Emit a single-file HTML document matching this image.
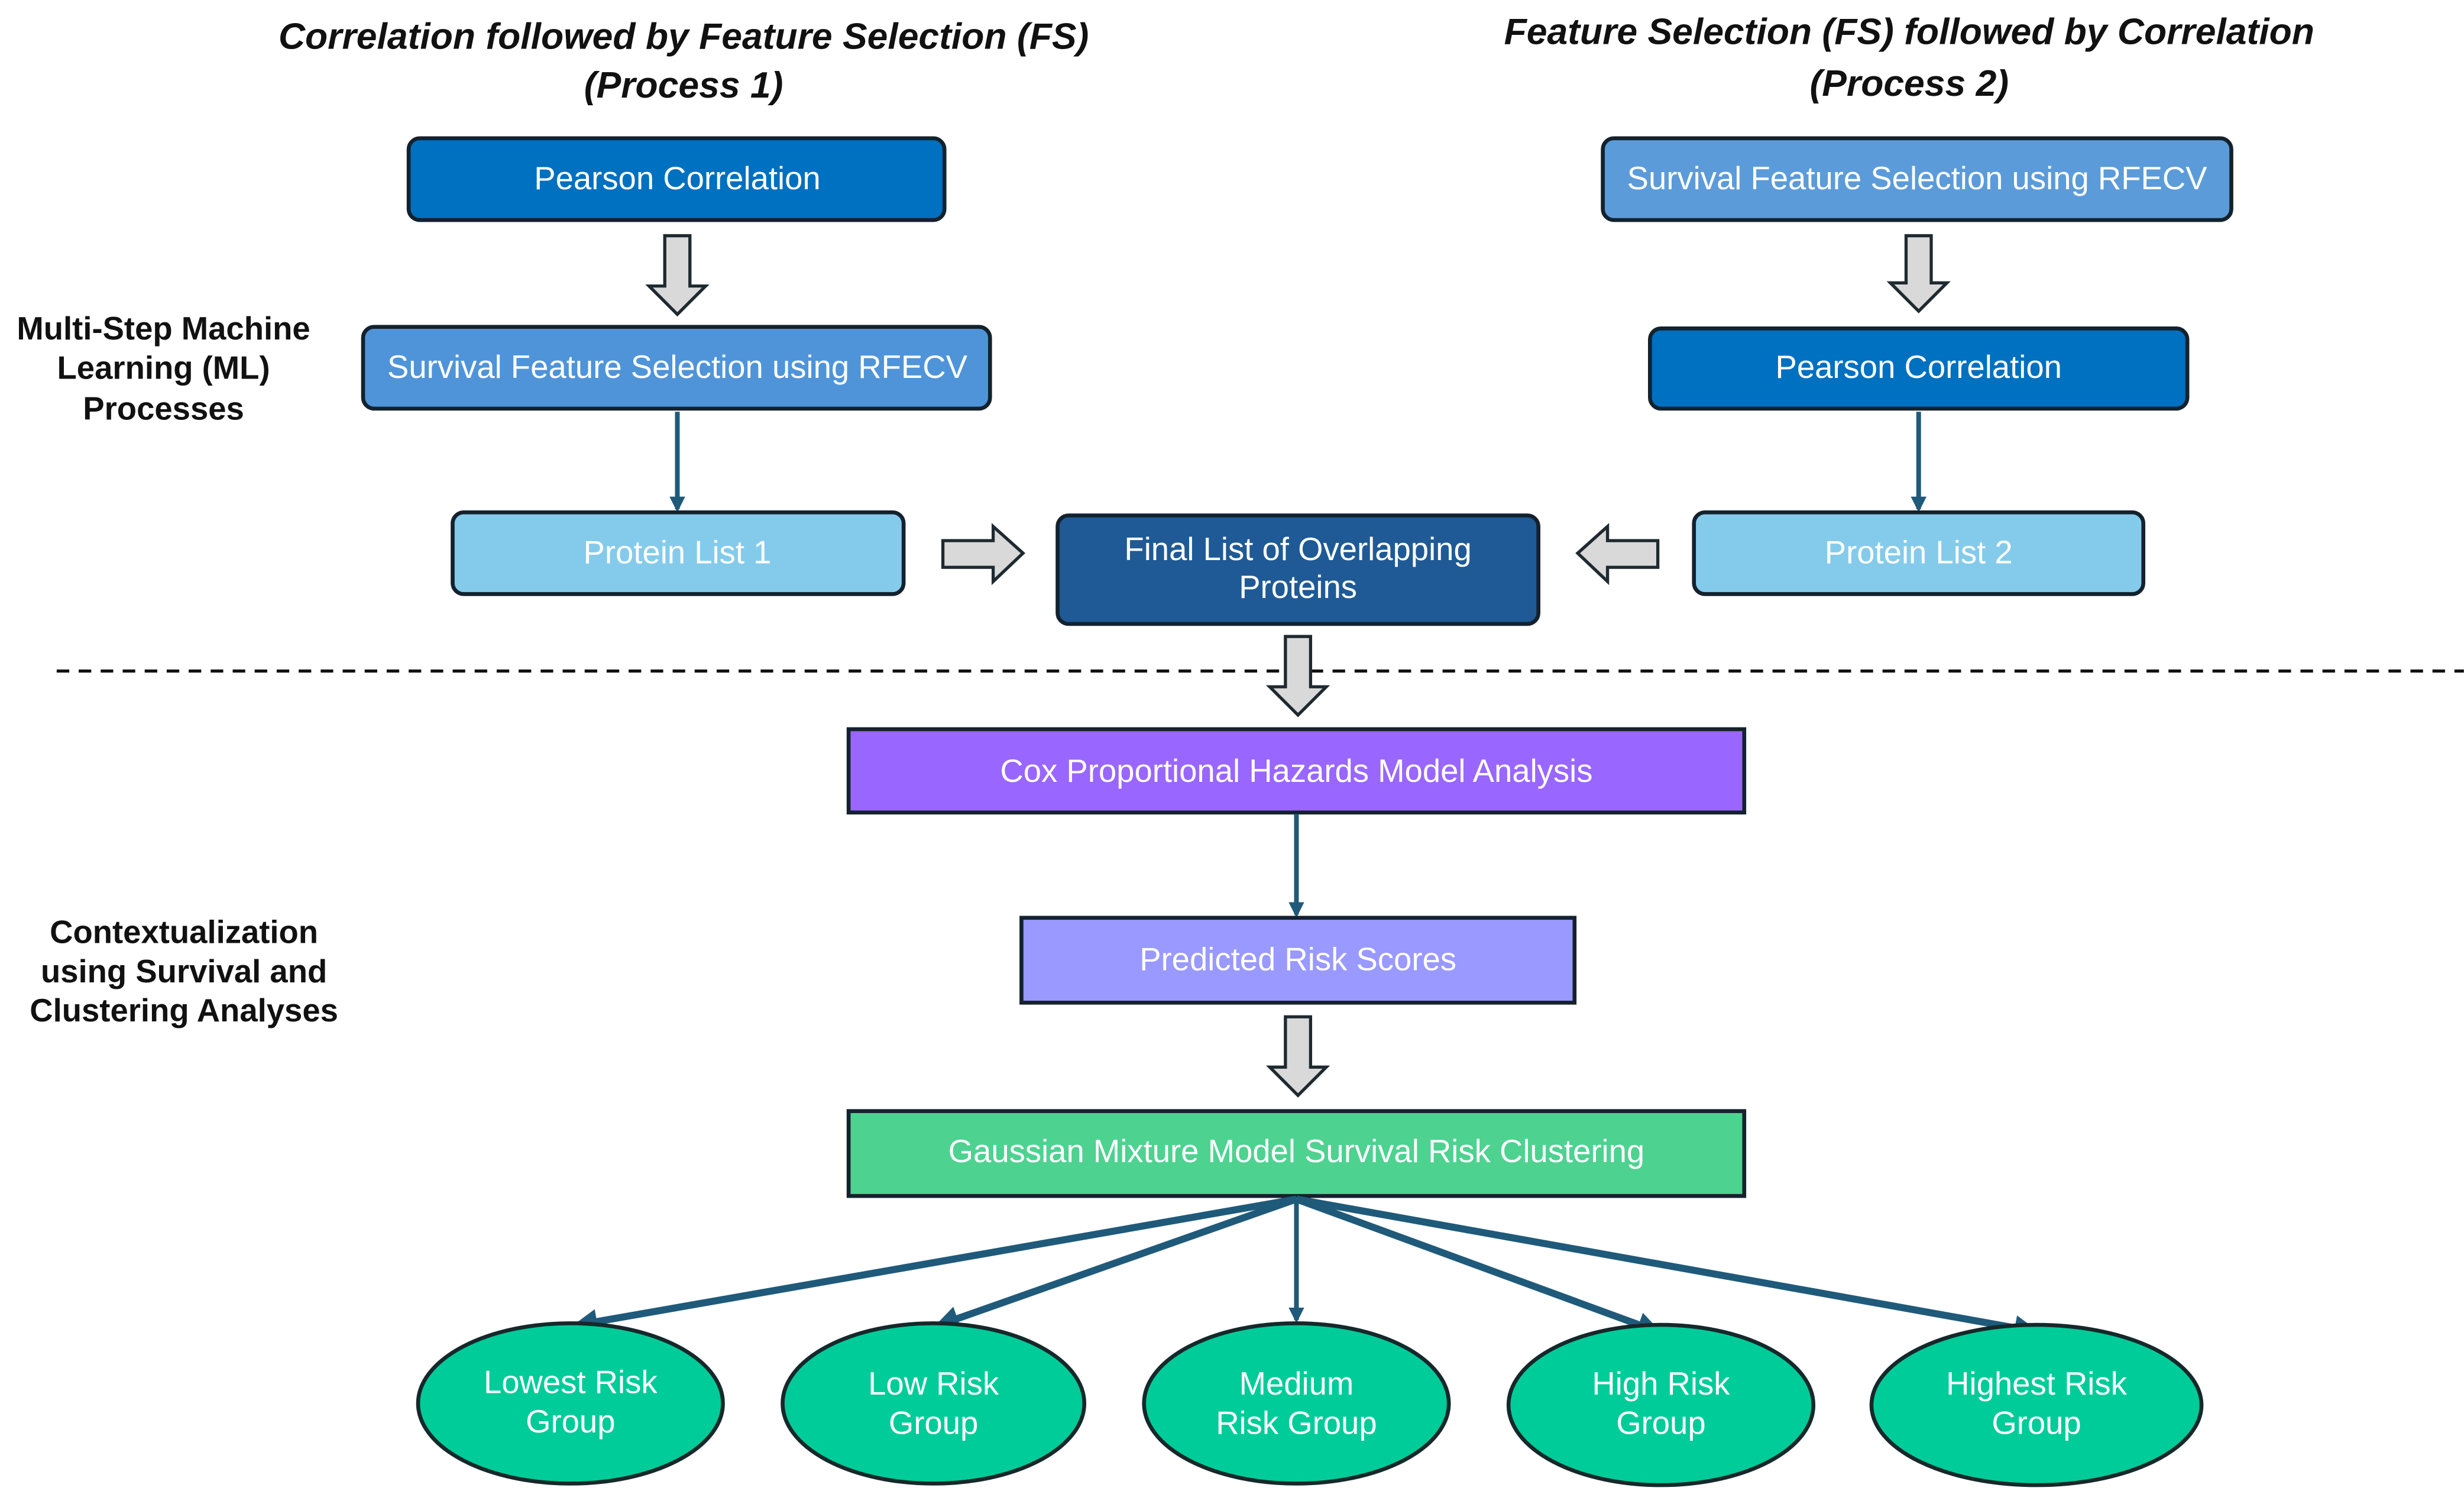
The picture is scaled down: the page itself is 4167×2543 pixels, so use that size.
<!DOCTYPE html>
<html><head><meta charset="utf-8"><style>
html,body{margin:0;padding:0;background:#fff;}
svg{display:block;}
text{font-family:"Liberation Sans",sans-serif;}
.w{fill:#fff;font-size:20.5px;text-anchor:middle;dominant-baseline:middle;}
.b{fill:#111;font-size:20.5px;font-weight:bold;text-anchor:middle;}
.t{fill:#111;font-size:23.5px;font-weight:bold;font-style:italic;text-anchor:middle;}
.bx{stroke:#14222e;stroke-width:2.5;}
.ga{fill:#d9d9d9;stroke:#1e2a30;stroke-width:2;}
.ln{stroke:#1f5a7a;stroke-width:3;fill:none;}
.lt{stroke:#1f5a7a;stroke-width:4.5;fill:none;}
</style></head><body>
<svg width="4167" height="2543" viewBox="0 0 1568 957" xmlns="http://www.w3.org/2000/svg">
<defs>
<marker id="ah" markerWidth="10" markerHeight="10" refX="8" refY="5" orient="auto" markerUnits="userSpaceOnUse"><path d="M0,0 L10,5 L0,10 z" fill="#1f5a7a"/></marker>
<marker id="ah2" markerWidth="16" markerHeight="16" refX="12" refY="8" orient="auto" markerUnits="userSpaceOnUse"><path d="M0,0 L16,8 L0,16 z" fill="#1f5a7a"/></marker>
</defs>
<text class="t" x="435" y="31">Correlation followed by Feature Selection (FS)</text>
<text class="t" x="435" y="62">(Process 1)</text>
<text class="t" x="1215" y="28">Feature Selection (FS) followed by Correlation</text>
<text class="t" x="1215" y="61">(Process 2)</text>

<text class="b" x="104" y="216">Multi-Step Machine</text>
<text class="b" x="104" y="241">Learning (ML)</text>
<text class="b" x="104" y="267">Processes</text>
<text class="b" x="117" y="600">Contextualization</text>
<text class="b" x="117" y="625">using Survival and</text>
<text class="b" x="117" y="650">Clustering Analyses</text>

<rect class="bx" x="260" y="88" width="341" height="52" rx="7" fill="#0070c0"/>
<text class="w" x="431" y="115">Pearson Correlation</text>
<path class="ga" d="M423,150 H439 V182 H449 L431,200 L413,182 H423 Z"/>
<rect class="bx" x="231" y="208" width="399" height="52" rx="7" fill="#4f94d9"/>
<text class="w" x="431" y="235">Survival Feature Selection using RFECV</text>
<line class="ln" x1="431" y1="262" x2="431" y2="324" marker-end="url(#ah)"/>
<rect class="bx" x="288" y="326" width="287" height="52" rx="7" fill="#84cbeb"/>
<text class="w" x="431" y="353">Protein List 1</text>
<path class="ga" d="M600,344 H632 V335 L651,352 L632,370 V361 H600 Z"/>

<rect class="bx" x="673" y="328" width="306" height="69" rx="7" fill="#1f5a96"/>
<text class="w" x="826" y="351">Final List of Overlapping</text>
<text class="w" x="826" y="375">Proteins</text>
<path class="ga" d="M1055,344 H1023 V335 L1004,352 L1023,370 V361 H1055 Z"/>

<rect class="bx" x="1020" y="88" width="400" height="52" rx="7" fill="#5b9bd9"/>
<text class="w" x="1220" y="115">Survival Feature Selection using RFECV</text>
<path class="ga" d="M1213,150 H1229 V180 H1239 L1221,198 L1203,180 H1213 Z"/>
<rect class="bx" x="1050" y="209" width="342" height="51" rx="7" fill="#0070c0"/>
<text class="w" x="1221" y="235">Pearson Correlation</text>
<line class="ln" x1="1221" y1="262" x2="1221" y2="324" marker-end="url(#ah)"/>
<rect class="bx" x="1078" y="326" width="286" height="52" rx="7" fill="#84cbeb"/>
<text class="w" x="1221" y="353">Protein List 2</text>

<line x1="36" y1="427" x2="1568" y2="427" stroke="#111" stroke-width="2" stroke-dasharray="8,6"/>
<path class="ga" d="M818,405 H834 V437 H844 L826,455 L808,437 H818 Z"/>

<rect class="bx" x="540" y="464" width="570" height="53" fill="#9966ff"/>
<text class="w" x="825" y="492">Cox Proportional Hazards Model Analysis</text>
<line class="ln" x1="825" y1="518" x2="825" y2="582" marker-end="url(#ah)"/>
<rect class="bx" x="650" y="584" width="352" height="54" fill="#9999ff"/>
<text class="w" x="826" y="612">Predicted Risk Scores</text>
<path class="ga" d="M818,647 H834 V679 H844 L826,697 L808,679 H818 Z"/>
<rect class="bx" x="540" y="707" width="570" height="54" fill="#4dd290"/>
<text class="w" x="825" y="734">Gaussian Mixture Model Survival Risk Clustering</text>

<line class="lt" x1="825" y1="763" x2="368" y2="843" marker-end="url(#ah2)"/>
<line class="lt" x1="825" y1="763" x2="598" y2="843" marker-end="url(#ah2)"/>
<line class="ln" x1="825" y1="763" x2="825" y2="840" marker-end="url(#ah)"/>
<line class="lt" x1="825" y1="763" x2="1054" y2="847" marker-end="url(#ah2)"/>
<line class="lt" x1="825" y1="763" x2="1294" y2="847" marker-end="url(#ah2)"/>

<g fill="#00cc99" stroke="#16282a" stroke-width="2.5">
<ellipse cx="363" cy="893" rx="97" ry="51"/>
<ellipse cx="594" cy="893" rx="96" ry="51"/>
<ellipse cx="825" cy="893" rx="97" ry="51"/>
<ellipse cx="1057" cy="894" rx="97" ry="51"/>
<ellipse cx="1296" cy="894" rx="105" ry="51"/>
</g>
<text class="w" x="363" y="881">Lowest Risk</text><text class="w" x="363" y="906">Group</text>
<text class="w" x="594" y="882">Low Risk</text><text class="w" x="594" y="907">Group</text>
<text class="w" x="825" y="882">Medium</text><text class="w" x="825" y="907">Risk Group</text>
<text class="w" x="1057" y="882">High Risk</text><text class="w" x="1057" y="907">Group</text>
<text class="w" x="1296" y="882">Highest Risk</text><text class="w" x="1296" y="907">Group</text>
</svg>
</body></html>
